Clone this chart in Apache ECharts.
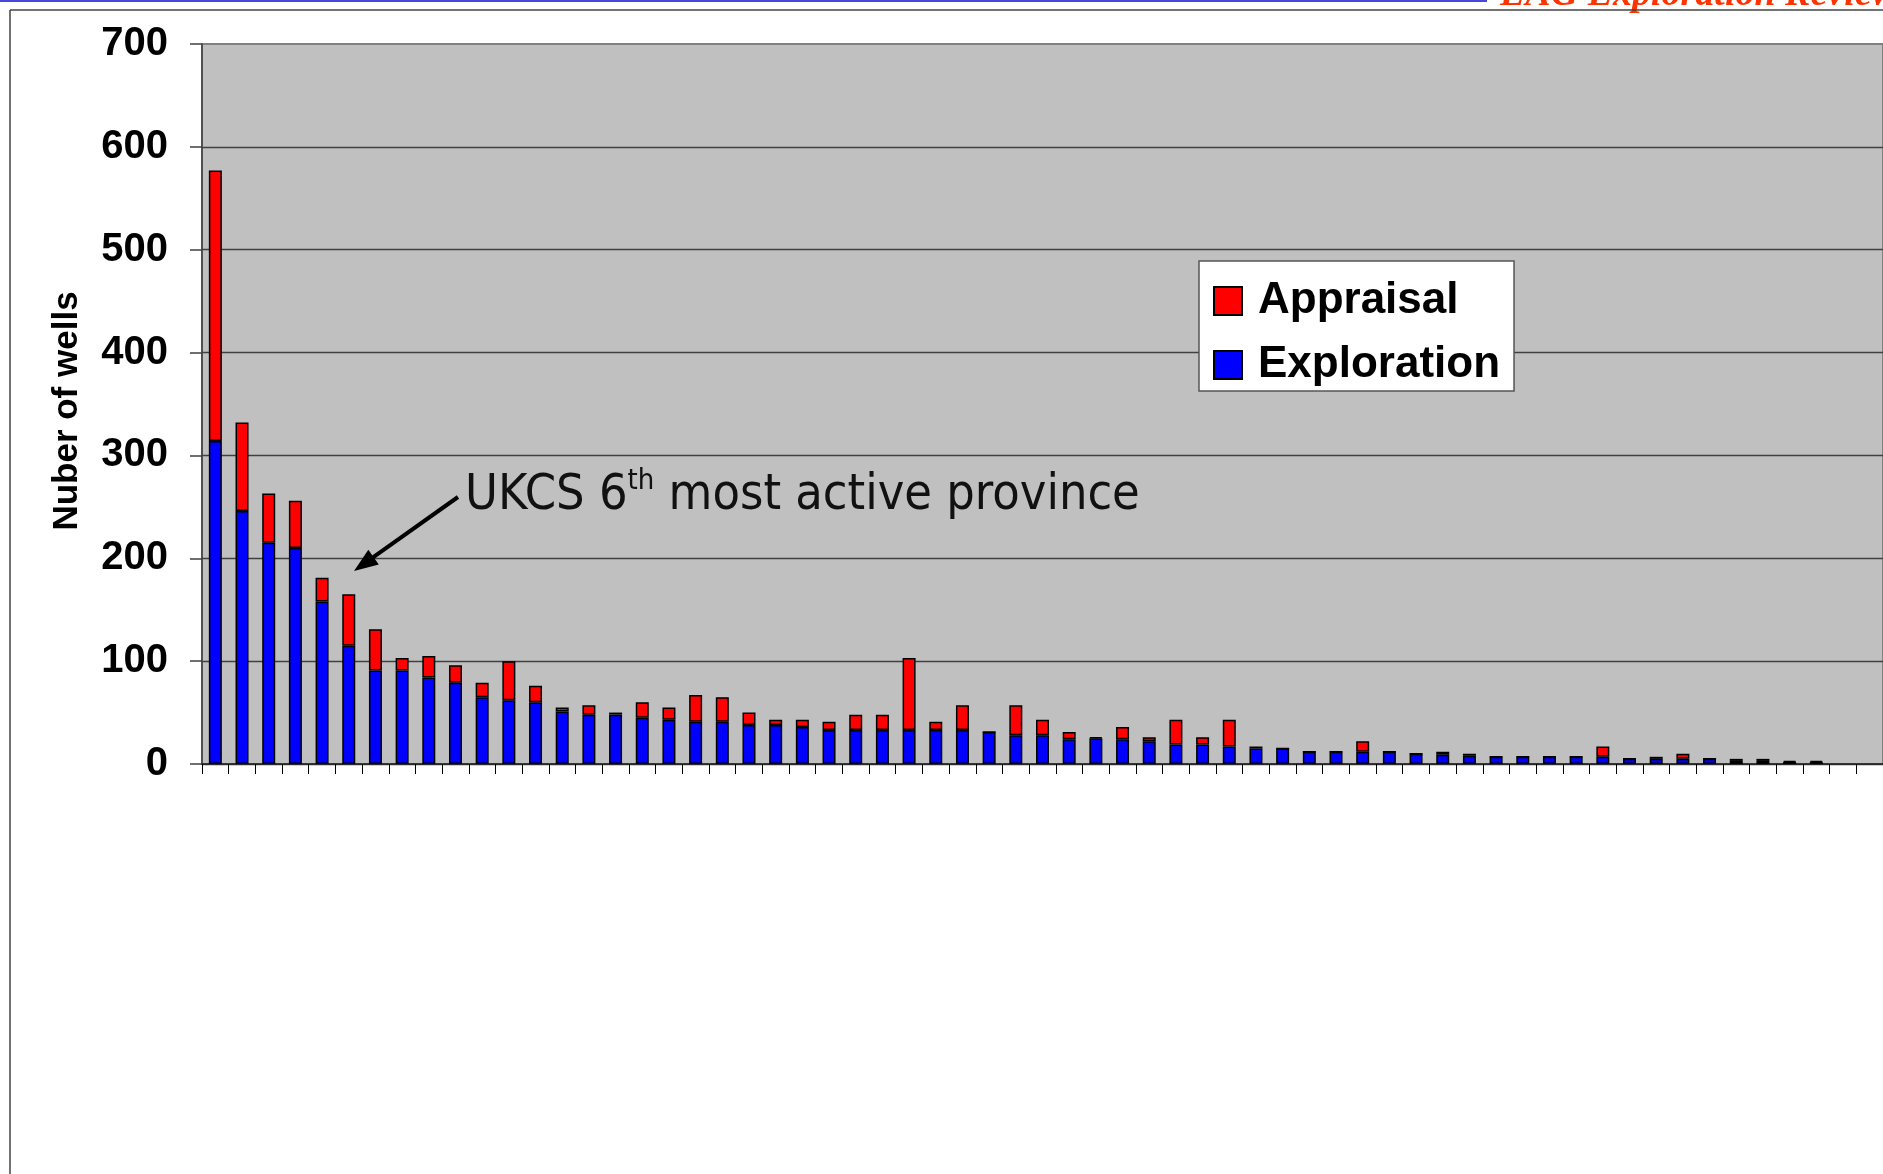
<!DOCTYPE html>
<html>
<head>
<meta charset="utf-8">
<title>Number of wells</title>
<script src="https://cdn.jsdelivr.net/npm/echarts@6/dist/echarts.min.js"></script>
<style>
  html, body { margin: 0; padding: 0; background: #fff; overflow: hidden; }
  #chart { width: 1883px; height: 1174px; }
</style>
</head>
<body>
<div id="chart"></div>
<script>
// provinces ranked by number of wells (names not shown on the slide)
const provinces = [];
for (let i = 1; i <= 63; i++) provinces.push('P' + i);

const exploration = [
  314, 246, 215, 210, 158, 115, 91, 91, 84, 79,
  65, 62, 60, 51, 48, 48, 45, 43, 41, 41,
  38, 38, 36, 33, 33, 33, 33, 33, 33, 31,
  28, 28, 24, 25, 24, 22, 19, 19, 17, 15,
  15, 12, 12, 12, 12, 10, 9, 8, 7, 7,
  7, 7, 7, 5, 5, 5, 5, 3, 3, 2, 2
];
const appraisal = [
  263, 86, 48, 46, 23, 50, 40, 12, 21, 17,
  14, 38, 16, 4, 9, 2, 15, 12, 26, 24,
  12, 5, 7, 8, 15, 15, 70, 8, 24, 0,
  29, 15, 7, 1, 12, 4, 24, 7, 26, 2,
  0, 0, 0, 10, 0, 0, 3, 2, 0, 0,
  0, 0, 10, 0, 2, 5, 0, 2, 2, 1, 1
];

const FONT = 'Liberation Sans, Arial, sans-serif';
const NOTE_FONT = '"DejaVu Sans Condensed", "DejaVu Sans", sans-serif';

// annotation arrow
const arrowFrom = [458, 497], arrowTo = [354, 571];
const dx = arrowTo[0] - arrowFrom[0], dy = arrowTo[1] - arrowFrom[1];
const len = Math.sqrt(dx * dx + dy * dy);
const ux = dx / len, uy = dy / len;
const headLen = 24, headHalf = 9;
const bx = arrowTo[0] - ux * headLen, by = arrowTo[1] - uy * headLen;

const chart = echarts.init(document.getElementById('chart'));

chart.setOption({
  animation: false,
  backgroundColor: '#fff',
  grid: {
    left: 202,
    top: 44,
    right: -5,
    bottom: 410,
    show: true,
    backgroundColor: '#c0c0c0',
    borderColor: '#808080',
    borderWidth: 2
  },
  legend: {
    data: ['Appraisal', 'Exploration'],
    orient: 'vertical',
    left: 1199,
    top: 261,
    icon: 'rect',
    itemWidth: 28,
    itemHeight: 28,
    itemGap: 20,
    selectedMode: false,
    backgroundColor: '#fff',
    borderColor: '#555',
    borderWidth: 1.5,
    padding: [18, 14, 4, 14],
    textStyle: {
      fontFamily: FONT,
      fontWeight: 'bold',
      fontSize: 44,
      lineHeight: 28,
      color: '#000',
      padding: [0, 0, 0, 11]
    }
  },
  xAxis: {
    type: 'category',
    data: provinces,
    boundaryGap: true,
    axisLine: { lineStyle: { color: '#222', width: 1.5 } },
    axisTick: { show: true, interval: 0, length: 10, lineStyle: { color: '#000', width: 1 } },
    axisLabel: { show: false },
    splitLine: { show: false }
  },
  yAxis: {
    type: 'value',
    min: 0,
    max: 700,
    interval: 100,
    name: 'Nuber of wells',
    nameLocation: 'middle',
    nameRotate: 90,
    nameGap: 117,
    nameTextStyle: {
      fontFamily: FONT,
      fontWeight: 'bold',
      fontSize: 35,
      color: '#000',
      padding: [0, 14, 0, 0]
    },
    axisLine: { show: true, lineStyle: { color: '#404040', width: 1.5 } },
    axisTick: { show: true, length: 12, lineStyle: { color: '#404040', width: 1.5 } },
    axisLabel: {
      margin: 34,
      fontFamily: FONT,
      fontWeight: 'bold',
      fontSize: 40,
      color: '#000'
    },
    splitLine: {
      show: true,
      showMaxLine: false,
      lineStyle: { color: '#404040', width: 1.3 }
    }
  },
  series: [{
    name: 'Exploration',
    type: 'bar',
    stack: 'wells',
    barWidth: 13,
    itemStyle: { color: '#0000ff', borderColor: '#000', borderWidth: 1.5 },
    data: exploration
  }, {
    name: 'Appraisal',
    type: 'bar',
    stack: 'wells',
    barWidth: 13,
    itemStyle: { color: '#ff0000', borderColor: '#000', borderWidth: 1.5 },
    data: appraisal
  }],
  graphic: [
    // slide header and frame
    { type: 'line', shape: { x1: 0, y1: 1, x2: 1487, y2: 1 },
      style: { stroke: '#4848d8', lineWidth: 2 }, z: 10 },
    { type: 'text', left: 1500, top: -24, z: 10,
      style: { text: 'EAG Exploration Review', fill: '#ff3300',
        font: 'italic bold 38px "Liberation Serif", "Times New Roman", serif' } },
    { type: 'line', shape: { x1: 10, y1: 10, x2: 1883, y2: 10 },
      style: { stroke: '#444', lineWidth: 1.5 }, z: 11 },
    { type: 'line', shape: { x1: 10, y1: 10, x2: 10, y2: 1174 },
      style: { stroke: '#444', lineWidth: 1.5 }, z: 11 },
    // annotation
    { type: 'line', z: 20,
      shape: { x1: arrowFrom[0], y1: arrowFrom[1], x2: bx + ux * 2, y2: by + uy * 2 },
      style: { stroke: '#000', lineWidth: 4 } },
    { type: 'polygon', z: 20,
      shape: { points: [
        arrowTo,
        [bx - uy * headHalf, by + ux * headHalf],
        [bx + uy * headHalf, by - ux * headHalf]
      ] },
      style: { fill: '#000' } },
    { type: 'text', x: 465, y: 496, z: 20,
      style: {
        text: '{a|UKCS 6}{s|th}{a| most active province}',
        verticalAlign: 'middle',
        rich: {
          a: { fontFamily: NOTE_FONT, fontSize: 50, lineHeight: 58, fill: '#111' },
          s: { fontFamily: NOTE_FONT, fontSize: 29, lineHeight: 44, verticalAlign: 'top', fill: '#111' }
        }
      } }
  ]
});
</script>
</body>
</html>
